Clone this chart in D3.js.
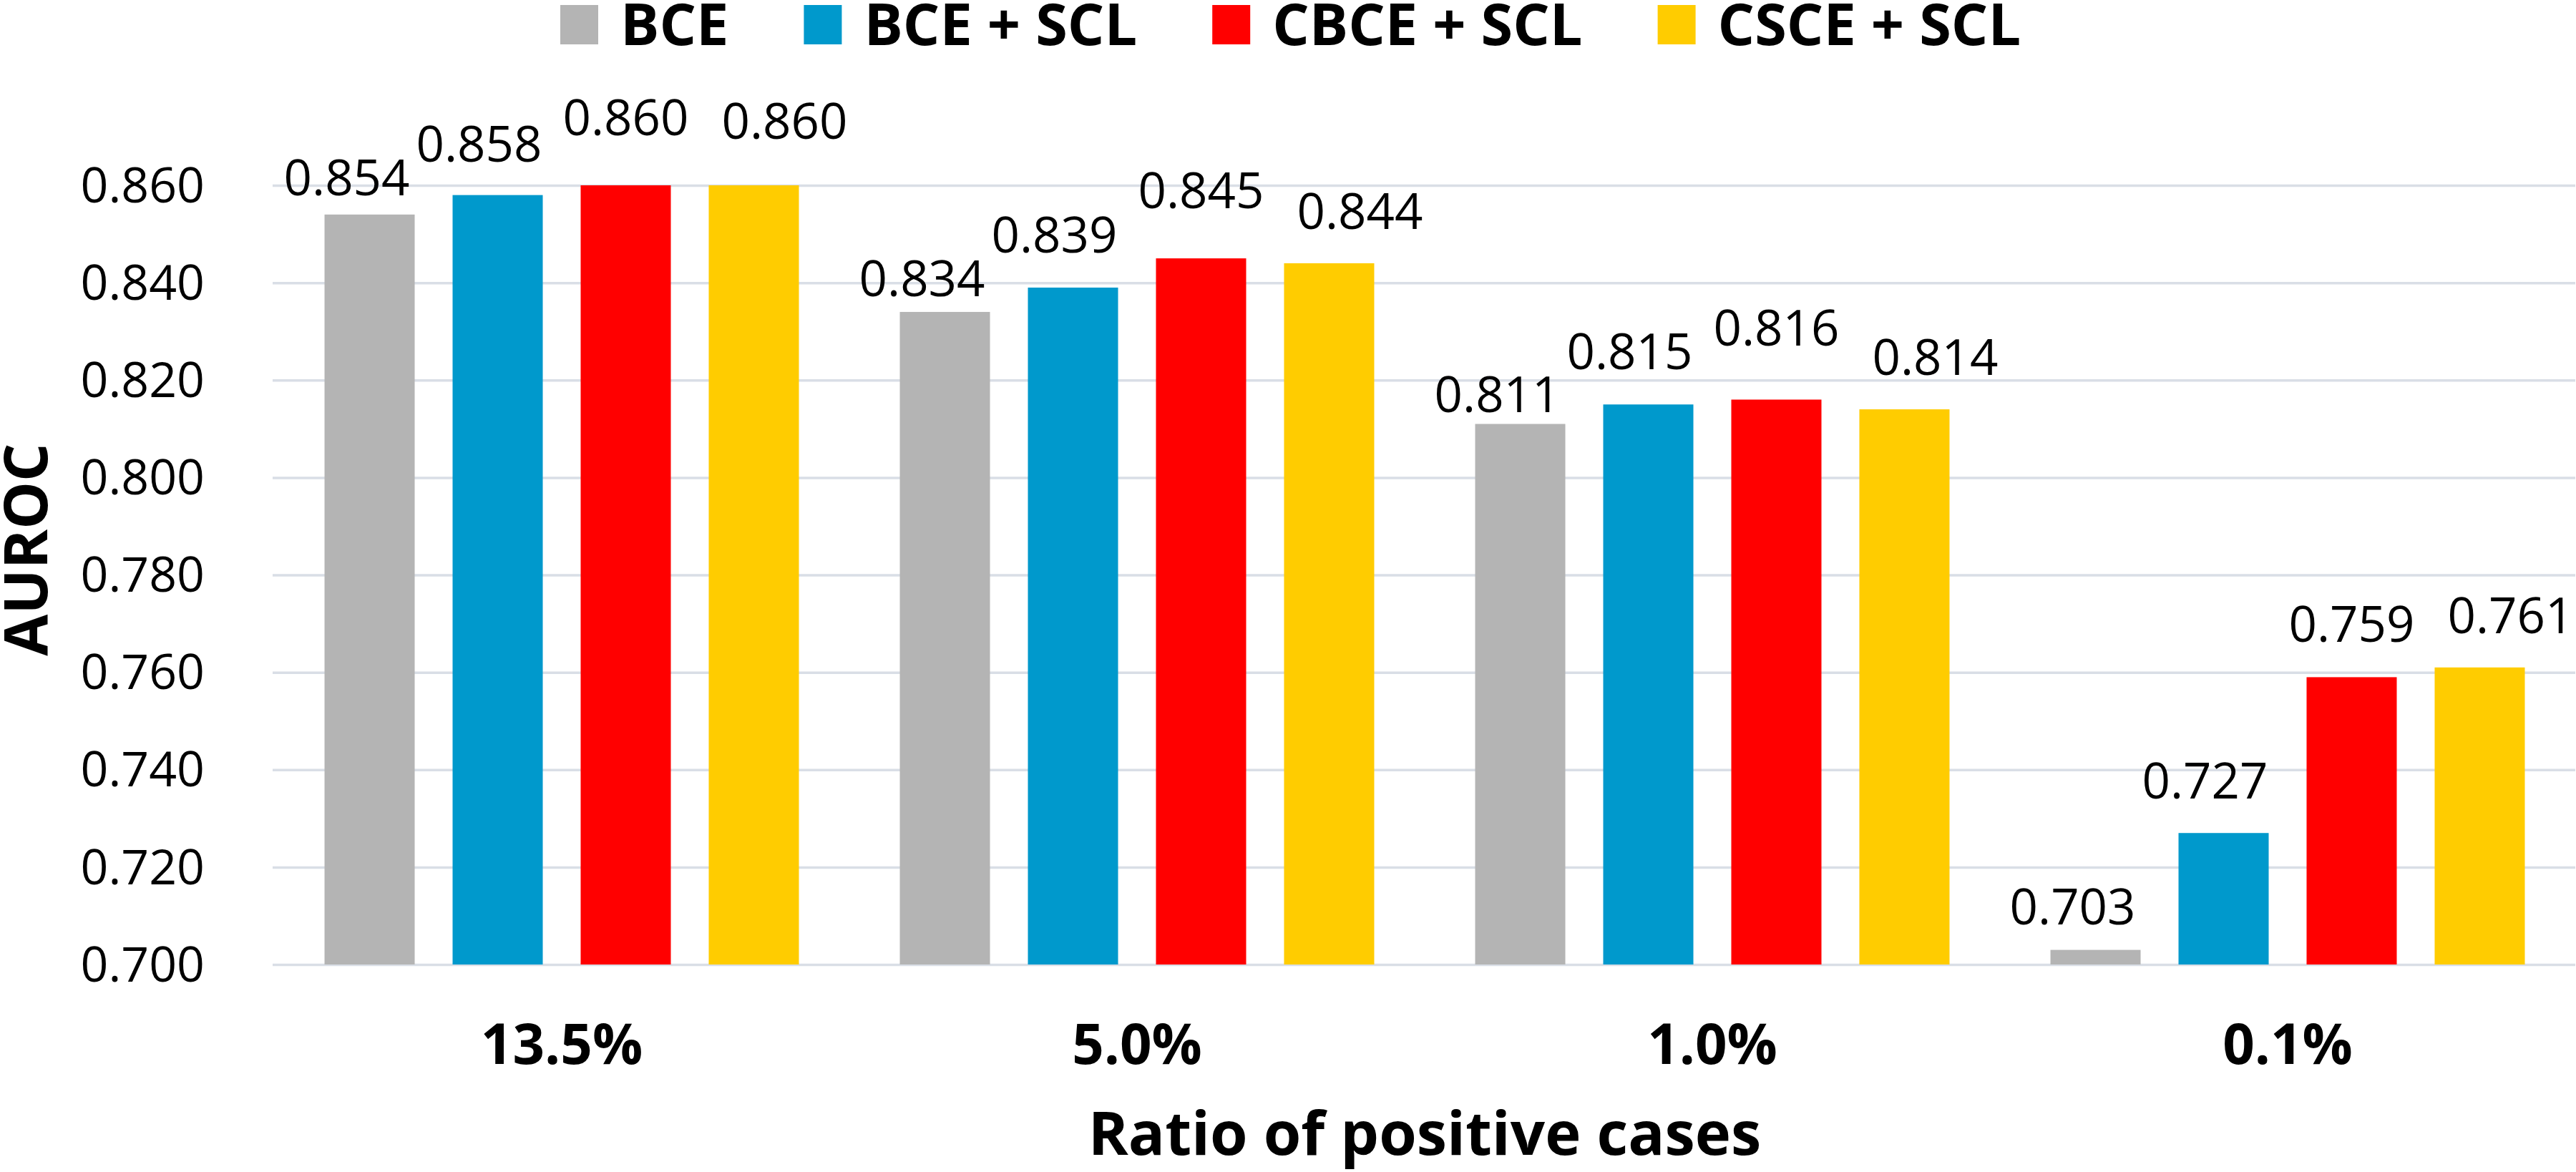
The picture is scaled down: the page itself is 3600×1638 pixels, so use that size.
<!DOCTYPE html>
<html>
<head>
<meta charset="utf-8">
<script src="https://cdn.jsdelivr.net/npm/d3@7"></script>
<style>
  html, body { margin: 0; padding: 0; background: #ffffff; }
  svg { display: block; }
</style>
</head>
<body>
<script>
// ---- data ----
const categories = ["13.5%", "5.0%", "1.0%", "0.1%"];
const seriesNames = ["BCE", "BCE + SCL", "CBCE + SCL", "CSCE + SCL"];
const bce      = [0.854, 0.834, 0.811, 0.703];
const bceScl   = [0.858, 0.839, 0.815, 0.727];
const cbceScl  = [0.860, 0.845, 0.816, 0.759];
const csceScl  = [0.860, 0.844, 0.814, 0.761];
const yTickValues = [0.700, 0.720, 0.740, 0.760, 0.780, 0.800, 0.820, 0.840, 0.860];
const xTitle = "Ratio of positive cases";
const yTitle = "AUROC";

// ---- style / layout ----
const colors = ["#B4B4B4", "#0099CC", "#FF0000", "#FFCC00"];
const W = 3600, H = 1638;
const plot = { left: 383, right: 3599, top: 259, bottom: 1348 };
// label nudges (px): horizontal per series, lift above bar top per [category][series]
const labelDx = [-32, -26, 0, 43];
const labelLift = [[52, 72, 95, 90], [47, 74, 95, 73], [42, 74, 100, 73], [61, 73, 74, 73]];

const seriesValues = [bce, bceScl, cbceScl, csceScl];
const rows = [];
categories.forEach((c, ci) => {
  seriesNames.forEach((s, si) => rows.push({ c, ci, s, si, v: seriesValues[si][ci] }));
});

const svg = d3.select("body").append("svg").attr("width", W).attr("height", H)
  .style("background", "#fff");

const y = d3.scaleLinear().domain([0.700, 0.860]).range([plot.bottom, plot.top]);
const x0 = d3.scaleBand().domain(categories).range([plot.left, plot.right]).padding(0);
const x1 = d3.scaleBand().domain(seriesNames).range([0, x0.bandwidth()])
  .paddingInner(0.296).paddingOuter(0.394);
const color = d3.scaleOrdinal().domain(seriesNames).range(colors);

// gridlines + tick labels
const yAxis = d3.axisLeft(y).tickValues(yTickValues).tickFormat(d3.format(".3f"))
  .tickSize(-(plot.right - plot.left + 2)).tickPadding(95);
const gy = svg.append("g").attr("transform", `translate(${plot.left - 2},0)`).call(yAxis);
gy.select(".domain").remove();
gy.selectAll(".tick line").attr("stroke", "#D9DEE6").attr("stroke-width", 3.5);
gy.selectAll(".tick text").attr("font-family", "'Open Sans', sans-serif")
  .attr("font-size", 68).attr("fill", "#000").attr("dy", "0.34em");

// bars
svg.append("g").selectAll("rect").data(rows).join("rect")
  .attr("x", d => x0(d.c) + x1(d.s))
  .attr("y", d => y(d.v))
  .attr("width", x1.bandwidth())
  .attr("height", d => y(0.700) - y(d.v))
  .attr("fill", d => color(d.s));

// data labels
svg.append("g").selectAll("text").data(rows).join("text")
  .attr("x", d => x0(d.c) + x1(d.s) + x1.bandwidth() / 2 + labelDx[d.si])
  .attr("y", d => y(d.v) - labelLift[d.ci][d.si] + 25)
  .attr("text-anchor", "middle")
  .attr("font-family", "'Open Sans', sans-serif")
  .attr("font-size", 69)
  .attr("fill", "#000")
  .text(d => d3.format(".3f")(d.v));

// x category labels
const xAxis = d3.axisBottom(x0).tickSize(0).tickPadding(0);
const gx = svg.append("g").attr("transform", `translate(0,${plot.bottom})`).call(xAxis);
gx.select(".domain").remove();
gx.selectAll(".tick text").attr("font-family", "'Open Sans', sans-serif")
  .attr("font-weight", "bold").attr("font-size", 78).attr("fill", "#000")
  .attr("dy", null).attr("y", 139);

// axis titles
svg.append("text").attr("x", (plot.left + plot.right) / 2).attr("y", 1614)
  .attr("text-anchor", "middle").attr("font-family", "'Open Sans', sans-serif")
  .attr("font-weight", "bold").attr("font-size", 85).attr("fill", "#000").text(xTitle);

svg.append("text").attr("transform", `translate(66,768) rotate(-90)`)
  .attr("text-anchor", "middle").attr("font-family", "'Open Sans', sans-serif")
  .attr("font-weight", "bold").attr("font-size", 84).attr("fill", "#000").text(yTitle);

// legend
const legend = svg.append("g");
let lx = 783;
seriesNames.forEach((s, i) => {
  legend.append("rect").attr("x", lx).attr("y", 7).attr("width", 53).attr("height", 55)
    .attr("fill", color(s));
  const t = legend.append("text").attr("x", lx + 53 + 31).attr("y", 63)
    .attr("font-family", "'Open Sans', sans-serif").attr("font-weight", "bold")
    .attr("font-size", 81).attr("fill", "#000").text(s);
  lx = lx + 53 + 31 + t.node().getComputedTextLength() + 105;
});
</script>
</body>
</html>
